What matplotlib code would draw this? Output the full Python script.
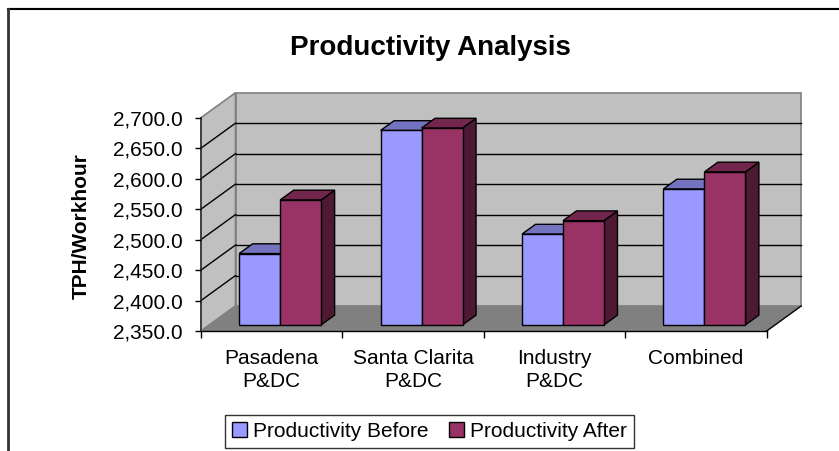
import matplotlib
matplotlib.use("Agg")
import matplotlib.pyplot as plt
from matplotlib.patches import Polygon, Patch
from matplotlib.lines import Line2D

plt.rcParams['font.family'] = ['Liberation Sans', 'DejaVu Sans']

# ---- data ----
categories = ["Pasadena\nP&DC", "Santa Clarita\nP&DC", "Industry\nP&DC", "Combined"]
before = [2467, 2669, 2499, 2573]
after = [2555, 2673, 2521, 2601]
series_names = ["Productivity Before", "Productivity After"]
y_ticks = [2350, 2400, 2450, 2500, 2550, 2600, 2650, 2700]
title = "Productivity Analysis"
ylabel = "TPH/Workhour"

# ---- style ----
W, H = 839, 451
fig = plt.figure(figsize=(W / 100, H / 100), dpi=100)
fig.patch.set_facecolor('white')

def fx(px):
    return px / W

def fy(py):
    return (H - py) / H

ax_l, ax_r, ax_b, ax_t = 201, 766.7, 331, 117.7
ax = fig.add_axes([fx(ax_l), fy(ax_b), fx(ax_r - ax_l), (ax_b - ax_t) / H])
ymin, ymax = y_ticks[0], y_ticks[-1]
n = len(categories)
ax.set_xlim(0, n)
ax.set_ylim(ymin, ymax)
ax.set_facecolor('none')
for s in ax.spines.values():
    s.set_visible(False)

# depth in data units
px_per_cat = (ax_r - ax_l) / n
px_per_val = (ax_b - ax_t) / (ymax - ymin)
DX = 34.5 / px_per_cat
DY = 25.0 / px_per_val

wall_c = '#C0C0C0'
floor_c = '#808080'
edge_c = '#808080'

# back wall
ax.add_patch(Polygon([(DX, ymin + DY), (n + DX, ymin + DY), (n + DX, ymax + DY), (DX, ymax + DY)],
                     closed=True, facecolor=wall_c, edgecolor=edge_c, lw=1.2, clip_on=False, zorder=0))
# left wall
ax.add_patch(Polygon([(0, ymin), (DX, ymin + DY), (DX, ymax + DY), (0, ymax)],
                     closed=True, facecolor=wall_c, edgecolor=edge_c, lw=1.2, clip_on=False, zorder=0))
# floor
ax.add_patch(Polygon([(0, ymin), (n, ymin), (n + DX, ymin + DY), (DX, ymin + DY)],
                     closed=True, facecolor=floor_c, edgecolor='none', clip_on=False, zorder=1))
# gridlines
for v in y_ticks[1:-1]:
    ax.plot([DX, n + DX], [v + DY, v + DY], color='black', lw=1, clip_on=False, zorder=1)
for v in y_ticks[1:-1]:
    ax.plot([0, DX], [v, v + DY], color='black', lw=1, clip_on=False, zorder=1)
# floor edges
ax.plot([0, n], [ymin, ymin], color='black', lw=1, clip_on=False, zorder=1.5)
ax.plot([n, n + DX], [ymin, ymin + DY], color='black', lw=1, clip_on=False, zorder=1.5)
ax.plot([0, DX], [ymin, ymin + DY], color=edge_c, lw=1, clip_on=False, zorder=1.5)
ax.plot([0, 0], [ymin, ymax], color='#333333', lw=1.2, clip_on=False, zorder=1.5)

# bars
f0, f1 = 0.245, 0.635
BW = 41.0 / px_per_cat
colors = [
    dict(front='#9999FF', top='#7373C0', side='#4D4D80'),
    dict(front='#993366', top='#73264D', side='#4D1933'),
]
ox0, oy0 = f0 * DX, f0 * DY
ddx, ddy = (f1 - f0) * DX, (f1 - f0) * DY
for i in range(n):
    for k, vals in enumerate([before, after]):
        v = vals[i]
        xl = i + 0.5 + ox0 + (k - 1) * BW
        xr = xl + BW
        base = ymin + oy0
        top = v + oy0
        c = colors[k]
        z = 3 + i * 2 + k
        ax.bar(xl, top - base, width=BW, bottom=base, align='edge',
               color=c['front'], edgecolor='black', lw=1, zorder=z + 0.2, clip_on=False)
        ax.add_patch(Polygon([(xl, top), (xr, top), (xr + ddx, top + ddy), (xl + ddx, top + ddy)],
                             closed=True, facecolor=c['top'], edgecolor='black', lw=1,
                             clip_on=False, zorder=z + 0.1))
        ax.add_patch(Polygon([(xr, base), (xr, top), (xr + ddx, top + ddy), (xr + ddx, base + ddy)],
                             closed=True, facecolor=c['side'], edgecolor='black', lw=1,
                             clip_on=False, zorder=z))

# ticks
ax.set_yticks(y_ticks)
ax.set_yticklabels([f"{v:,.1f}" for v in y_ticks], fontsize=15)
ax.tick_params(axis='y', direction='out', length=4, width=1, pad=9, color='black')
ax.set_xticks([i + 0.5 for i in range(n)])
ax.set_xticklabels(categories, fontsize=15, linespacing=1.28, va='top')
ax.tick_params(axis='x', which='major', length=0, pad=13)
ax.set_xticks(list(range(n + 1)), minor=True)
ax.tick_params(axis='x', which='minor', direction='out', length=5, width=1, color='black')

# title and label
fig.text(fx(430.5), fy(55), title, fontsize=20, fontweight='bold', ha='center', va='baseline')
fig.text(fx(81), fy(226), ylabel, fontsize=15, fontweight='bold', rotation=90, ha='center', va='center')

# legend
handles = [Patch(facecolor=colors[0]['front'], edgecolor='black', lw=1),
           Patch(facecolor=colors[1]['front'], edgecolor='black', lw=1)]
leg = fig.legend(handles, series_names, loc='center', bbox_to_anchor=(fx(429.5), fy(431.5)),
                 ncol=2, fontsize=15, frameon=True, fancybox=False, handlelength=0.7,
                 handleheight=0.7, handletextpad=0.3, columnspacing=1.0, borderpad=0.35,
                 borderaxespad=0)
leg.get_frame().set_edgecolor('black')
leg.get_frame().set_linewidth(1)

# outer chart border (only top/left visible)
fig.add_artist(Line2D([fx(8), fx(W + 5)], [fy(7.5), fy(7.5)], color='#C8C8C8', lw=1, transform=fig.transFigure))
fig.add_artist(Line2D([fx(8), fx(W + 5)], [fy(9), fy(9)], color='black', lw=1.5, transform=fig.transFigure))
fig.add_artist(Line2D([fx(8), fx(8)], [fy(9), fy(H + 5)], color='#333333', lw=2, transform=fig.transFigure))

fig.savefig('out.png', dpi=100)
